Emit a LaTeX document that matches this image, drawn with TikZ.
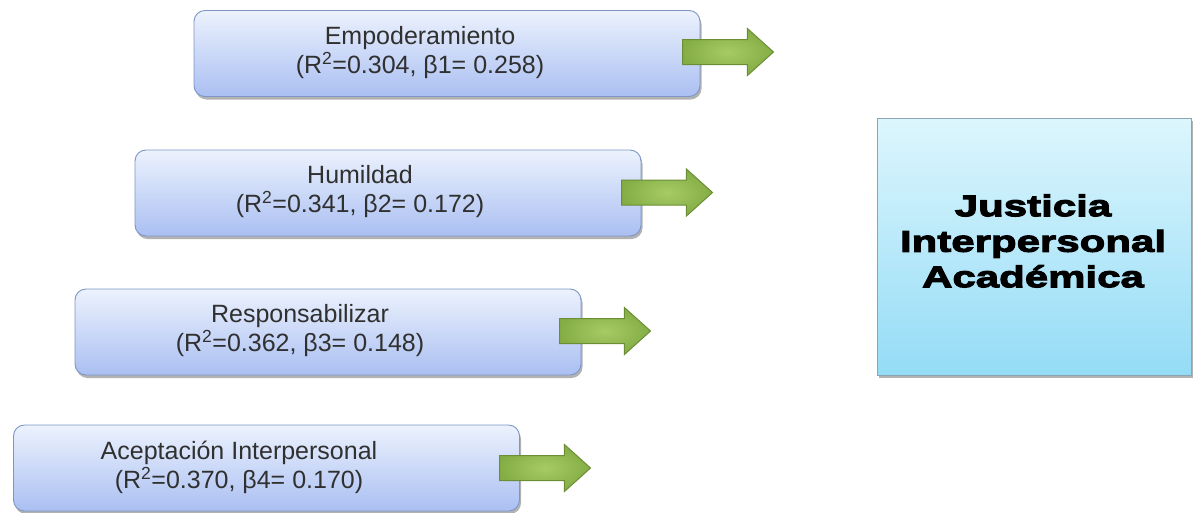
\documentclass[tikz,border=0pt]{standalone}
\usepackage{fontspec}
\setmainfont{Liberation Sans}
\newfontfamily\heavyfont{Liberation Sans}[UprightFont=*-Bold, FakeStretch=1.4, FakeBold=3.5]
\usetikzlibrary{shapes.arrows,shadows}
\definecolor{boxtop}{HTML}{ECF2FD}
\definecolor{boxbot}{HTML}{AABFF2}
\definecolor{boxline}{HTML}{7E96C4}
\definecolor{bigtop}{HTML}{DDF6FD}
\definecolor{bigbot}{HTML}{94DCF6}
\definecolor{bigline}{HTML}{8AA6B4}
\definecolor{arrfill}{HTML}{84AD45}
\definecolor{arrlight}{HTML}{A6CB66}
\definecolor{arrline}{HTML}{6B8E35}
\definecolor{labeltext}{HTML}{303030}
\tikzset{
  factor/.style={draw=boxline, line width=0.9pt, rounded corners=11pt,
    top color=boxtop, bottom color=boxbot, minimum width=506pt, minimum height=86pt,
    drop shadow={shadow xshift=1.5pt, shadow yshift=-3pt, fill=black, opacity=0.3}},
  factortext/.style={align=center, inner sep=0pt,
    font=\fontsize{25}{29}\selectfont, text=labeltext},
  outcome/.style={draw=bigline, line width=0.9pt,
    top color=bigtop, bottom color=bigbot, minimum width=314pt, minimum height=257pt,
    drop shadow={shadow xshift=2pt, shadow yshift=-3pt, fill=black, opacity=0.3}},
  outcometext/.style={align=center, inner sep=0pt,
    font=\heavyfont\fontsize{30}{35.5}\selectfont},
  fatarrow/.style={single arrow, draw=arrline, line width=1pt,
    inner color=arrlight, outer color=arrfill,
    inner sep=0pt, text width=0pt, text height=12pt, text depth=12pt,
    single arrow head extend=11pt, single arrow tip angle=84,
    minimum height=91pt, anchor=west}
}
\begin{document}
\begin{tikzpicture}[x=1pt,y=-1pt]
\useasboundingbox (0,0) rectangle (1201,512);
% predictor boxes, labels sit a little left of centre
\node[factor] (emp) at (447,53.5) {};
\node[factortext] (empt) at (420,52.5) {Empoderamiento\\(R\textsuperscript{2}=0.304, β1= 0.258)};
\node[factor] (hum) at (388,193) {};
\node[factortext] (humt) at (360,192) {Humildad\\(R\textsuperscript{2}=0.341, β2= 0.172)};
\node[factor] (res) at (328,332) {};
\node[factortext] (rest) at (300,331) {Responsabilizar\\(R\textsuperscript{2}=0.362, β3= 0.148)};
\node[factor] (ace) at (266.5,468) {};
\node[factortext] (acet) at (239,467) {Aceptación Interpersonal\\(R\textsuperscript{2}=0.370, β4= 0.170)};
% outcome box
\node[outcome] (jus) at (1034,246.5) {};
\node[outcometext] (just) at (1033,241) {Justicia\\Interpersonal\\Académica};
% block arrows
\node[fatarrow] (a1) at (682,52) {};
\node[fatarrow] (a2) at (621,192.5) {};
\node[fatarrow] (a3) at (559,331) {};
\node[fatarrow] (a4) at (499,468) {};
\end{tikzpicture}
\end{document}
